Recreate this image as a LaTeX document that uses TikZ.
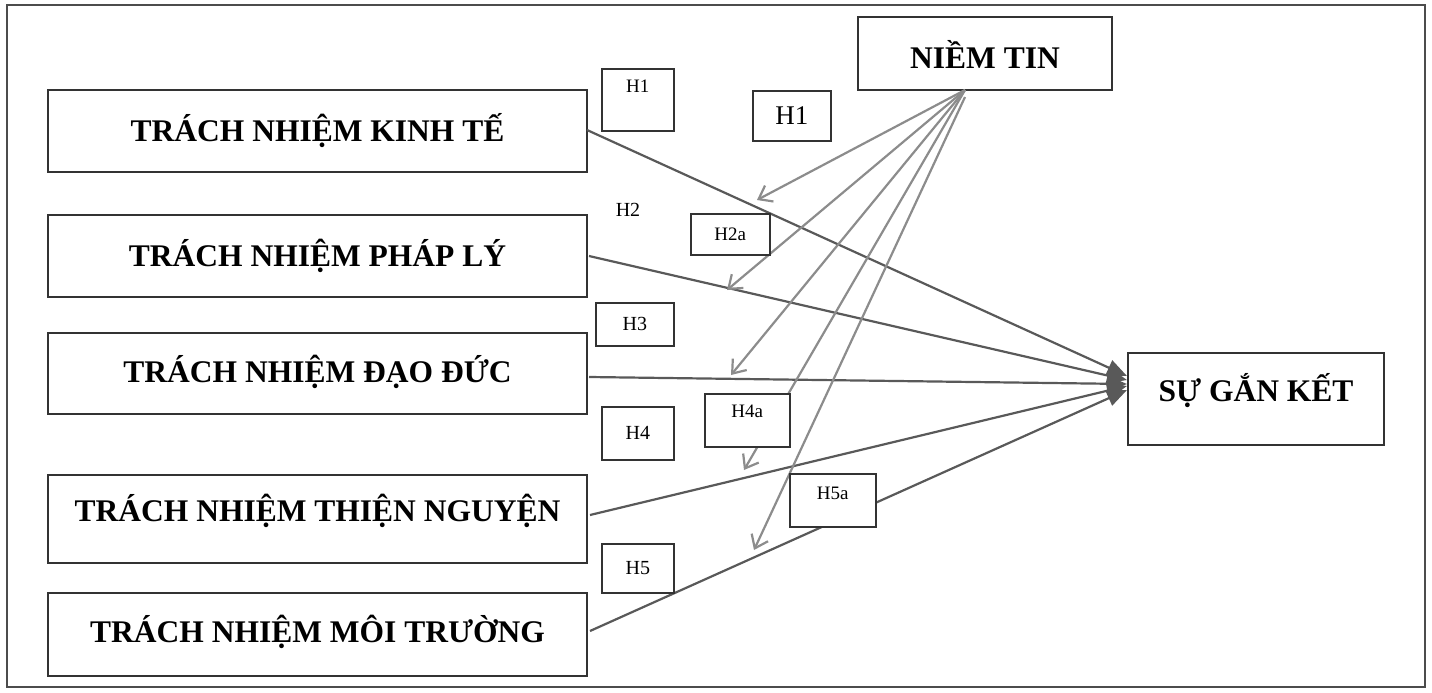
\documentclass[tikz,border=0pt]{standalone}
\usepackage{fontspec}
\setmainfont{Liberation Serif}
\usetikzlibrary{arrows.meta}
\begin{document}
\begin{tikzpicture}[x=1pt,y=-1pt,
  box/.style={draw=black!80,line width=1.8pt,fill=white},
  big/.style={font=\fontsize{31.5}{34}\selectfont\bfseries},
  lab/.style={draw=black!80,line width=1.6pt,fill=white,font=\fontsize{19}{21}\selectfont},
  main/.style={draw=black!65,line width=2.2pt,-{Triangle[length=20pt,width=16pt]}},
  mod/.style={draw=black!45,line width=2.2pt,-{Straight Barb[length=12pt,width=18pt]}}]
\useasboundingbox (0,0) rectangle (1432,693);
\draw[black!70,line width=1.3pt] (7,5) rectangle (1425,687);
\path[box] (48,90) rectangle (587,172); \node[big] (kt) at (317.5,131) {TRÁCH NHIỆM KINH TẾ};
\path[box] (48,215) rectangle (587,297); \node[big] (pl) at (317.5,256) {TRÁCH NHIỆM PHÁP LÝ};
\path[box] (48,333) rectangle (587,414); \node[big] (dd) at (317.5,372) {TRÁCH NHIỆM ĐẠO ĐỨC};
\path[box] (48,475) rectangle (587,563); \node[big] (tn) at (317.5,511) {TRÁCH NHIỆM THIỆN NGUYỆN};
\path[box] (48,593) rectangle (587,676); \node[big] (mt) at (317.5,632) {TRÁCH NHIỆM MÔI TRƯỜNG};
\path[box] (858,17) rectangle (1112,90); \node[big] (nt) at (985,54) {NIỀM TIN};
\path[box] (1128,353) rectangle (1384,445); \node[big] (sgk) at (1256,391) {SỰ GẮN KẾT};
\coordinate (k1) at (587,130); \coordinate (p1) at (589,256); \coordinate (d1) at (589,377);
\coordinate (t1) at (590,515); \coordinate (m1) at (590,631);
\coordinate (n) at (965,90);
\draw[main] (k1) -- (1127,376);
\draw[main] (p1) -- (1127,380);
\draw[main] (d1) -- (1127,384);
\draw[main] (t1) -- (1127,386);
\draw[main] (m1) -- (1127,390);
\coordinate (e1) at (757,200); \coordinate (e2) at (727,290);
\coordinate (e3) at (731,375); \coordinate (e4) at (744,470); \coordinate (e5) at (754,550);
\draw[mod] (n) -- (e1);
\draw[mod] (n) -- (e2);
\draw[mod] (n) -- (e3);
\draw[mod] (n) -- (e4);
\draw[mod] (965,97) -- (e5);
\node[lab,minimum width=72,minimum height=62,anchor=north west,text depth=28] (h1a) at (601,68) {H1};
\node[lab,minimum width=78,minimum height=50,anchor=north west,font=\fontsize{27}{29}\selectfont] (h1b) at (752,90) {H1};
\node[font=\fontsize{20}{22}\selectfont] (h2) at (628,210) {H2};
\node[lab,minimum width=79,minimum height=41,anchor=north west] (h2a) at (690,213) {H2a};
\node[lab,minimum width=78,minimum height=43,anchor=north west,font=\fontsize{20}{22}\selectfont] (h3) at (595,302) {H3};
\node[lab,minimum width=72,minimum height=53,anchor=north west,font=\fontsize{20}{22}\selectfont] (h4) at (601,406) {H4};
\node[lab,minimum width=85,minimum height=53,anchor=north west,text depth=18] (h4a) at (704,393) {H4a};
\node[lab,minimum width=86,minimum height=53,anchor=north west,text depth=14] (h5a) at (789,473) {H5a};
\node[lab,minimum width=72,minimum height=49,anchor=north west,font=\fontsize{20}{22}\selectfont] (h5) at (601,543) {H5};
\end{tikzpicture}
\end{document}
